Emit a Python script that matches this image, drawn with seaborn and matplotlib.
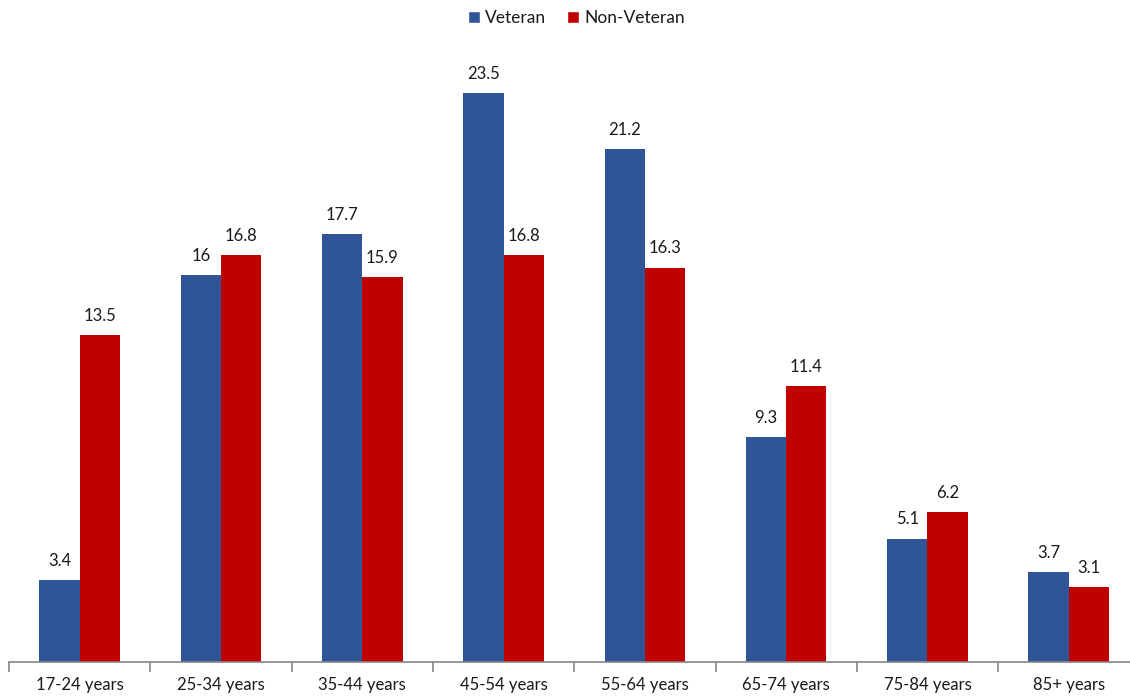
import matplotlib
matplotlib.use("Agg")
import matplotlib.pyplot as plt
import seaborn as sns
import pandas as pd
from matplotlib.patches import Patch

categories = ["17-24 years", "25-34 years", "35-44 years", "45-54 years",
              "55-64 years", "65-74 years", "75-84 years", "85+ years"]
veteran = [3.4, 16, 17.7, 23.5, 21.2, 9.3, 5.1, 3.7]
non_veteran = [13.5, 16.8, 15.9, 16.8, 16.3, 11.4, 6.2, 3.1]
series = ["Veteran", "Non-Veteran"]
colors = ["#2F5597", "#C00000"]

df = pd.DataFrame({
    "Age": categories * 2,
    "Value": veteran + non_veteran,
    "Group": [series[0]] * len(categories) + [series[1]] * len(categories),
})

sns.set_style("white")
plt.rcParams['font.family'] = ['Lato', 'DejaVu Sans']

fig = plt.figure(figsize=(11.3, 6.98), dpi=100)
ax = fig.add_axes([9/1130, 36/698, 1130.4/1130, (662-57)/698])

sns.barplot(data=df, x="Age", y="Value", hue="Group", palette=colors,
            width=0.57, gap=0, ax=ax, legend=False, saturation=1, linewidth=0)

for cont, vals in zip(ax.containers, [veteran, non_veteran]):
    labels = [f"{v:g}" for v in vals]
    ax.bar_label(cont, labels=labels, padding=8, fontsize=12, color="#1a1a1a")

ax.set_ylim(0, 25)
ax.set_xlim(-0.5, 7.5)
ax.set_yticks([])
ax.set_xlabel("")
ax.set_ylabel("")
for s in ["left", "right", "top"]:
    ax.spines[s].set_visible(False)
ax.spines["bottom"].set_color("#868686")
ax.spines["bottom"].set_linewidth(1.2)
ax.set_xticks(range(len(categories)))
ax.set_xticklabels(categories, fontsize=12, color="#1a1a1a")
ax.set_xticks([i - 0.5 for i in range(len(categories))], minor=True)
ax.tick_params(axis="x", which="both", bottom=True)
ax.tick_params(axis="x", which="major", length=0, pad=11)
ax.tick_params(axis="x", which="minor", length=7, width=1.2, color="#868686", direction="out")

handles = [Patch(facecolor=c, label=s) for c, s in zip(colors, series)]
fig.legend(handles=handles, loc="center", bbox_to_anchor=(0.51, 1 - 18/698), ncol=2,
           frameon=False, fontsize=12.5, handlelength=0.7, handleheight=0.7,
           handletextpad=0.3, columnspacing=1.2, labelcolor="#1a1a1a")

fig.savefig("out.png", dpi=100, facecolor="white")
